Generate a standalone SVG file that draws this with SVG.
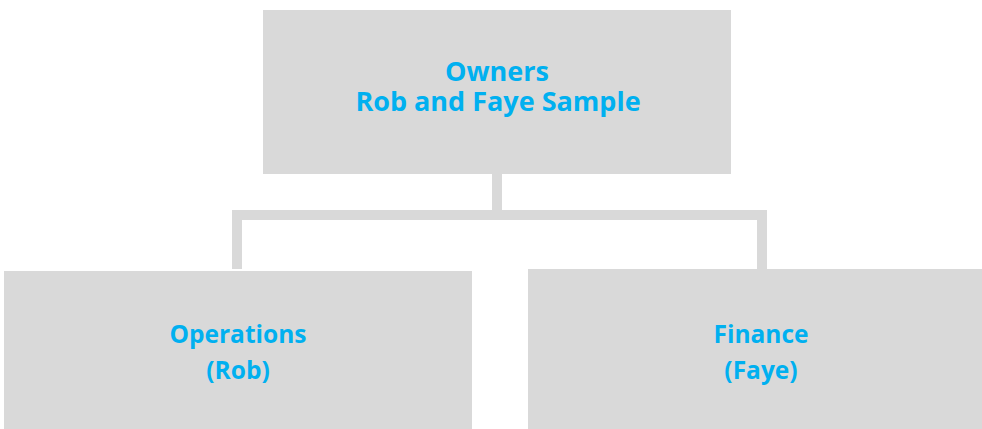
<svg xmlns="http://www.w3.org/2000/svg" width="982" height="429" viewBox="0 0 982 429">
<style>
.box{fill:#D9D9D9;}
.lbl{font-family:"Open Sans","Liberation Sans",sans-serif;font-weight:bold;fill:#00B0F0;text-anchor:middle;}
.top{font-size:27px;}
.sub{font-size:24.5px;}
.conn{fill:none;stroke:#D9D9D9;stroke-width:10;stroke-linejoin:miter;stroke-linecap:butt;}
</style>
<rect width="982" height="429" fill="#FFFFFF"/>
<g id="connectors">
<path class="conn" d="M497 174 V215"/>
<path class="conn" d="M237 269 V215 H762 V269"/>
</g>
<g id="owners">
<rect class="box" x="263" y="10" width="468" height="164"/>
<text class="lbl top" x="497" y="81">Owners</text>
<text class="lbl top" x="498" y="111">Rob and Faye Sample</text>
</g>
<g id="operations">
<rect class="box" x="4" y="271" width="468" height="158"/>
<text class="lbl sub" x="238" y="343">Operations</text>
<text class="lbl sub" x="238" y="379">(Rob)</text>
</g>
<g id="finance">
<rect class="box" x="528" y="269" width="454" height="160"/>
<text class="lbl sub" x="761" y="343">Finance</text>
<text class="lbl sub" x="761" y="379">(Faye)</text>
</g>
</svg>
